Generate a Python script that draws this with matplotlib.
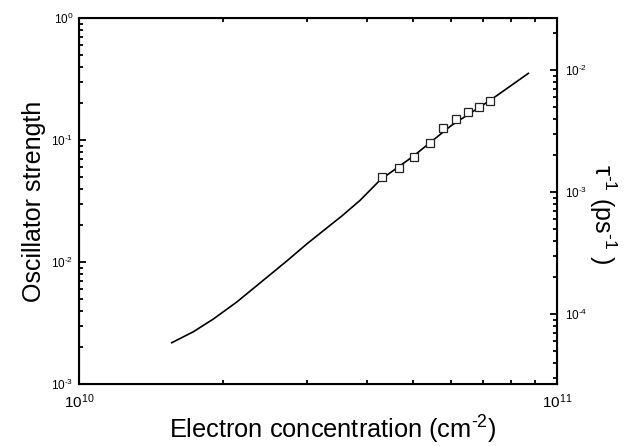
import matplotlib
matplotlib.use("Agg")
import matplotlib.pyplot as plt
import numpy as np
from matplotlib.ticker import NullFormatter, FuncFormatter

plt.rcParams['font.family'] = ['Liberation Sans', 'DejaVu Sans']
plt.rcParams['mathtext.fontset'] = 'custom'
plt.rcParams['mathtext.rm'] = 'Liberation Sans'
plt.rcParams['mathtext.it'] = 'Liberation Sans:italic'
plt.rcParams['mathtext.default'] = 'regular'

# calculated oscillator strength vs electron density
n_calc = [1.563e10, 1.734e10, 1.91e10, 2.138e10, 2.391e10, 2.72e10, 2.995e10,
          3.297e10, 3.545e10, 3.871e10, 4.264e10, 5.0e10, 6.0e10, 7.25e10, 8.71e10]
f_calc = [2.18e-3, 2.68e-3, 3.41e-3, 4.70e-3, 6.73e-3, 0.01019, 0.01405,
          0.0190, 0.0238, 0.0320, 0.047, 0.0735, 0.131, 0.212, 0.352]

# measured points
n_meas = [4.30e10, 4.67e10, 5.03e10, 5.41e10, 5.78e10, 6.15e10, 6.52e10, 6.88e10, 7.25e10]
f_meas = [0.050, 0.0593, 0.0730, 0.094, 0.125, 0.150, 0.170, 0.187, 0.210]


def pow10(v, pos):
    e = int(round(np.log10(v)))
    s = str(e).replace('-', r'\text{-}')
    return r'$10^{%s}$' % s


fig = plt.figure(figsize=(6.44, 4.46), dpi=100)
ax = fig.add_axes([0.1227, 0.139, 0.7423, 0.8206])

ax.plot(n_calc, f_calc, color='black', lw=1.2)
ax.plot(n_meas, f_meas, ls='none', marker='s', ms=6, mfc='white', mec='#222222', mew=0.9)

ax.set_xscale('log')
ax.set_yscale('log')
ax.set_xlim(1e10, 1e11)
ax.set_ylim(1e-3, 1)
ax.xaxis.set_major_formatter(FuncFormatter(pow10))
ax.yaxis.set_major_formatter(FuncFormatter(pow10))
ax.xaxis.set_minor_formatter(NullFormatter())
ax.yaxis.set_minor_formatter(NullFormatter())
ax.tick_params(which='both', direction='in', top=True, right=False, width=1.3)
ax.tick_params(which='major', length=5)
ax.tick_params(which='minor', length=3)
ax.tick_params(axis='x', labelsize=11, pad=6)
ax.tick_params(axis='y', labelsize=8.5, pad=4)
for s in ax.spines.values():
    s.set_linewidth(1.5)

ax.set_xlabel(r'Electron concentration (cm$^{\text{-}2}$)', fontsize=18.3, labelpad=2)
ax.xaxis.label.set_x(0.531)
ax.set_ylabel('Oscillator strength', fontsize=18, labelpad=4)

ax2 = ax.twinx()
ax2.set_yscale('log')
ax2.set_ylim(2.667e-5, 2.667e-2)
ax2.yaxis.set_major_formatter(FuncFormatter(pow10))
ax2.yaxis.set_minor_formatter(NullFormatter())
ax2.tick_params(which='both', direction='in', width=1.3, labelsize=8.5, pad=6)
ax2.tick_params(which='major', length=5)
ax2.tick_params(which='minor', length=3)
ax2.set_ylabel(r'$\tau^{\text{-}1}$ (ps$^{\text{-}1}$ )', fontsize=18, rotation=270, labelpad=22)
ax2.yaxis.label.set_y(0.465)

fig.savefig('out.png', dpi=100)
